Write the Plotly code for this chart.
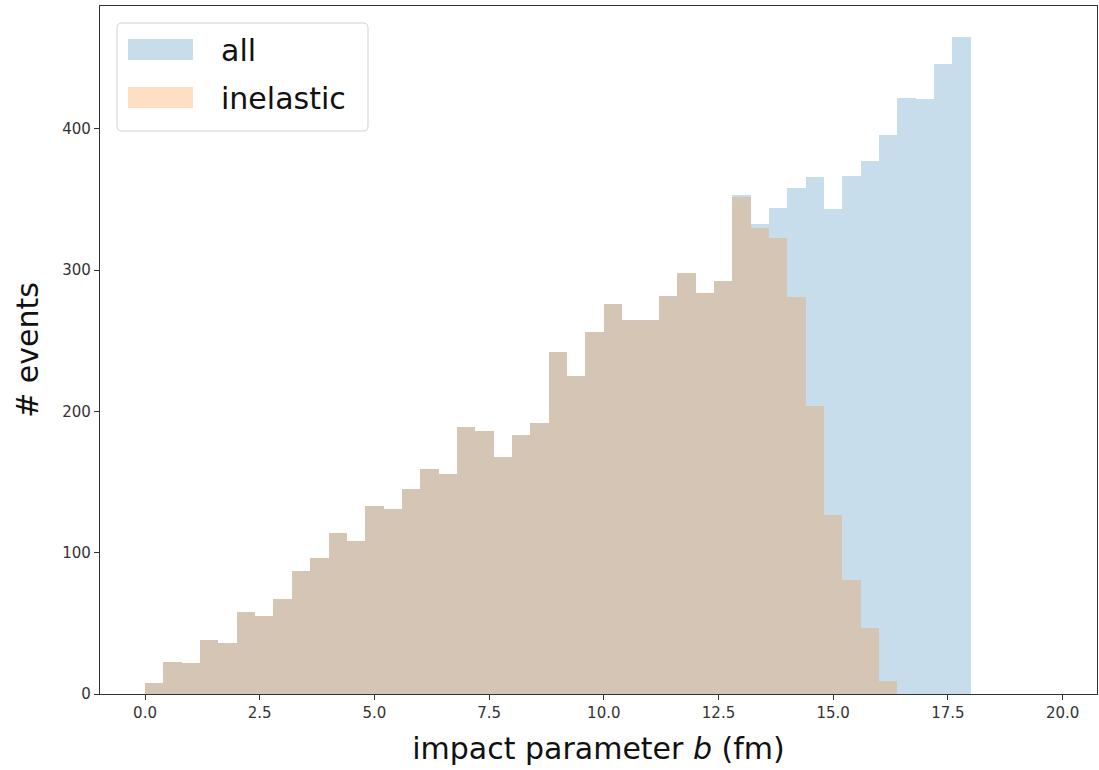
import plotly.graph_objects as go

# ---- data ----
bin_width = 0.4
bin_edges = [round(bin_width * i, 1) for i in range(46)]  # 0.0 ... 18.0

inelastic_counts = [8, 23, 22, 38, 36, 58, 55, 67, 87, 96,
                    114, 108, 133, 131, 145, 159, 156, 189, 186, 168,
                    183, 192, 242, 225, 256, 276, 265, 265, 282, 298,
                    284, 292, 352, 330, 323, 281, 204, 127, 81, 47,
                    9, 0, 0, 0, 0]
all_counts = inelastic_counts[:32] + [353, 333, 344, 358, 366, 343, 367, 377,
                                       396, 422, 421, 446, 465]

legend_labels = ["all", "inelastic"]
x_ticks = [0.0, 2.5, 5.0, 7.5, 10.0, 12.5, 15.0, 17.5, 20.0]
y_ticks = [0, 100, 200, 300, 400]

BLUE = "rgba(31,119,180,0.25)"
ORANGE = "rgba(255,127,14,0.25)"

centers = [(bin_edges[i] + bin_edges[i + 1]) / 2 for i in range(len(bin_edges) - 1)]

fig = go.Figure()
fig.add_trace(go.Bar(x=centers, y=all_counts, width=bin_width, name="all",
                     marker=dict(color=BLUE, line=dict(width=0)), showlegend=False))
fig.add_trace(go.Bar(x=centers, y=inelastic_counts, width=bin_width, name="inelastic",
                     marker=dict(color=ORANGE, line=dict(width=0)), showlegend=False))

W, H = 1099, 770
L, R, T, B = 100, 2, 6, 76
pw, ph = W - L - R, H - T - B

def px(x):
    return (x - L) / pw

def py(y):
    return (H - B - y) / ph

# ---- hand-drawn legend box (matplotlib style) ----
x0, x1, y0, y1, rad = 117, 368, 23, 131, 5
rx, ry = rad / pw, rad / ph
X0, X1, Y0, Y1 = px(x0), px(x1), py(y1), py(y0)
path = (f"M{X0+rx},{Y0} L{X1-rx},{Y0} Q{X1},{Y0} {X1},{Y0+ry} "
        f"L{X1},{Y1-ry} Q{X1},{Y1} {X1-rx},{Y1} L{X0+rx},{Y1} "
        f"Q{X0},{Y1} {X0},{Y1-ry} L{X0},{Y0+ry} Q{X0},{Y0} {X0+rx},{Y0} Z")
shapes = [dict(type="path", path=path, xref="paper", yref="paper",
               line=dict(color="rgba(204,204,204,0.9)", width=1),
               fillcolor="rgba(255,255,255,0.8)", layer="above")]
annotations = []
for lab, col, (ya, yb) in zip(legend_labels, [BLUE, ORANGE], [(39, 60), (87, 108)]):
    shapes.append(dict(type="rect", xref="paper", yref="paper",
                       x0=px(128), x1=px(193), y0=py(yb), y1=py(ya),
                       fillcolor=col, line=dict(width=0), layer="above"))
    annotations.append(dict(text=lab, xref="paper", yref="paper",
                            x=px(219), y=py((ya + yb) / 2 + 1), xanchor="left",
                            yanchor="middle", showarrow=False,
                            font=dict(size=30, color="#111", family="DejaVu Sans")))

axis_common = dict(showline=True, linecolor="#333", linewidth=1.2, mirror=True,
                   ticks="outside", ticklen=5, tickwidth=1.1, tickcolor="#333",
                   showgrid=False, zeroline=False,
                   tickfont=dict(size=15, color="#333", family="DejaVu Sans"))

fig.update_layout(
    width=W, height=H,
    margin=dict(l=L, r=R, t=T, b=B),
    barmode="overlay", bargap=0,
    plot_bgcolor="white", paper_bgcolor="white",
    font=dict(family="DejaVu Sans"),
    xaxis=dict(range=[-0.981, 20.75], tickvals=x_ticks,
               ticktext=[f"{v:.1f}" for v in x_ticks],
               title=dict(text="impact parameter <i>b</i> (fm)",
                          font=dict(size=30, color="#111"), standoff=16),
               **axis_common),
    yaxis=dict(range=[0, 487], tickvals=y_ticks,
               title=dict(text="# events", font=dict(size=30, color="#111"), standoff=14),
               **axis_common),
    shapes=shapes, annotations=annotations,
)

fig.write_html("out.html", config={"displayModeBar": False},
               post_script="document.body.style.margin='0';document.body.style.overflow='hidden';")
